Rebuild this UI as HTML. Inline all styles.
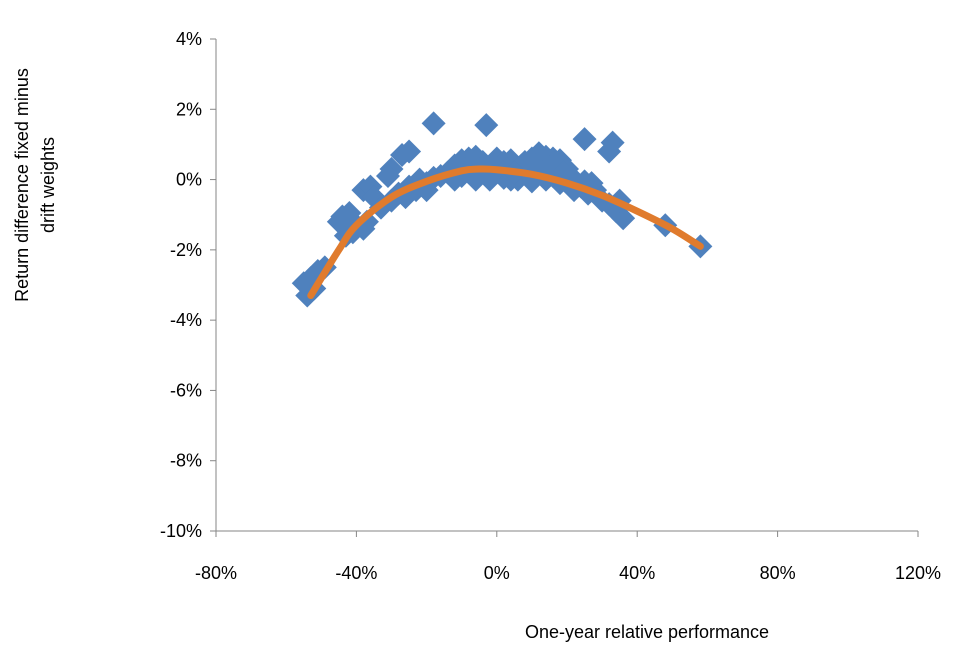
<!DOCTYPE html>
<html><head><meta charset="utf-8"><style>
body{margin:0;background:#fff;}
svg text{font-family:"Liberation Sans",sans-serif;font-size:18px;fill:#000;}
</style></head><body>
<svg id="chart" width="962" height="652">
<g id="axes"></g><g id="pts"></g><g id="trend"></g>
<text x="647" y="638" text-anchor="middle">One-year relative performance</text>
<g transform="translate(0,185) rotate(-90)">
<text x="0" y="28" text-anchor="middle">Return difference fixed minus</text>
<text x="0" y="54" text-anchor="middle">drift weights</text></g>
</svg>
<script>
const xTicks=[-80,-40,0,40,80,120];
const yTicks=[4,2,0,-2,-4,-6,-8,-10];
const scatterX=[-18,-3,25,33,32,-25,-27,-30,-31,-54,-55,-53,-51,-49,-52,-44,-42,-43,-41,-40,-38,-37,-38,-36,-35,-33,-30,-28,-26,-25,-23,-22,-20,-18,-16,-14,-12,-10,-8,-6,-4,-2,0,2,4,6,8,10,12,14,16,18,20,-10,-6,-2,2,6,10,14,18,22,24,26,28,30,32,34,36,35,27,-12,-8,0,8,16,22,48,58,-45,-20,12,4,-5,-1,3,7,11,15,19,-9,-3,5,13,21,25];
const scatterY=[1.6,1.55,1.15,1.05,0.8,0.8,0.7,0.3,0.1,-3.3,-2.95,-2.8,-2.6,-2.5,-3.1,-1.05,-0.95,-1.6,-1.5,-1.3,-1.4,-1.2,-0.3,-0.2,-0.5,-0.8,-0.6,-0.4,-0.5,-0.2,-0.3,0,-0.1,0.05,0.1,0.2,0.4,0.55,0.6,0.65,0.5,0.3,0.6,0.5,0.55,0.3,0.5,0.6,0.75,0.65,0.6,0.55,0.3,0.1,0,0,0.05,0,-0.05,0,-0.1,-0.3,-0.2,-0.4,-0.3,-0.6,-0.7,-0.9,-1.1,-0.6,-0.1,0,0.2,0.2,0.2,0.1,0,-1.3,-1.9,-1.2,-0.3,0.3,0,0.3,0.4,0.3,0.4,0.4,0.35,0.2,0.3,0.15,0.2,0.2,0.1,-0.05];
const trendX=[-53,-45,-40,-30,-20,-10,-5,0,10,20,30,40,50,58];
const trendY=[-3.3,-2.0,-1.3,-0.5,-0.05,0.25,0.3,0.28,0.15,-0.1,-0.45,-0.9,-1.4,-1.9];
const NS="http://www.w3.org/2000/svg";
const X0=216,X1=918,Y0=39,Y1=531;
const sx=v=>X0+(v+80)/200*(X1-X0);
const sy=v=>Y0+(4-v)/14*(Y1-Y0);
function mk(tag,attrs,parent){const e=document.createElementNS(NS,tag);for(const k in attrs)e.setAttribute(k,attrs[k]);parent.appendChild(e);return e;}
const ax=document.getElementById('axes');
let l=mk('line',{x1:X0,y1:Y0,x2:X0,y2:Y1,stroke:'#868686','stroke-width':1},ax);


l=mk('line',{x1:X0,y1:Y1,x2:X1,y2:Y1,stroke:'#868686','stroke-width':1},ax);


yTicks.forEach(t=>{
 mk('line',{x1:X0-6,y1:sy(t),x2:X0,y2:sy(t),stroke:'#868686'},ax);
 const tx=mk('text',{x:X0-14,y:sy(t)+6,'text-anchor':'end'},ax);tx.textContent=t+'%';
 
 
});
xTicks.forEach(t=>{
 mk('line',{x1:sx(t),y1:Y1,x2:sx(t),y2:Y1+6,stroke:'#868686'},ax);
 const tx=mk('text',{x:sx(t),y:Y1+48,'text-anchor':'middle'},ax);tx.textContent=t+'%';
 
 
});
const pg=document.getElementById('pts');
scatterX.forEach((v,i)=>{
 const cx=sx(v),cy=sy(scatterY[i]),r=12;
 const p=mk('polygon',{points:`${cx},${cy-r} ${cx+r},${cy} ${cx},${cy+r} ${cx-r},${cy}`,fill:'#4f81bd'},pg);
 
 
});
const P=trendX.map((v,i)=>[sx(v),sy(trendY[i])]);
let d=`M${P[0][0]},${P[0][1]}`;
for(let i=0;i<P.length-1;i++){
 const p0=P[Math.max(0,i-1)],p1=P[i],p2=P[i+1],p3=P[Math.min(P.length-1,i+2)];
 d+=` C${p1[0]+(p2[0]-p0[0])/6},${p1[1]+(p2[1]-p0[1])/6} ${p2[0]-(p3[0]-p1[0])/6},${p2[1]-(p3[1]-p1[1])/6} ${p2[0]},${p2[1]}`;
}
const tr=mk('path',{d:d,fill:'none',stroke:'#e07b2d','stroke-width':7,'stroke-linecap':'round'},document.getElementById('trend'));


</script>
</body></html>
